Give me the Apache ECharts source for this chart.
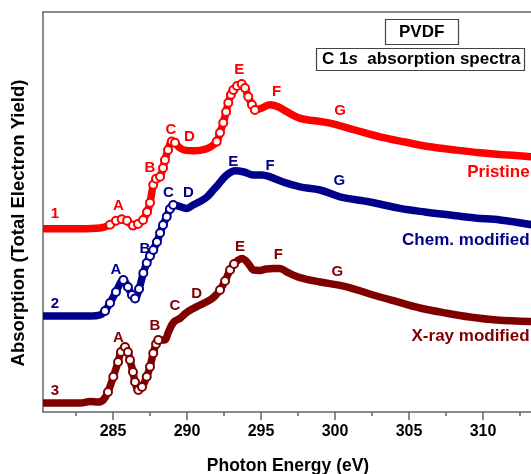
<!DOCTYPE html>
<html>
<head>
<meta charset="utf-8">
<script src="https://cdn.jsdelivr.net/npm/echarts@6/dist/echarts.min.js"></script>
<style>html,body{margin:0;padding:0;background:#fff}#c{width:531px;height:474px}</style>
</head>
<body>
<div id="c"></div>
<script>
// Photon energy (eV) / absorption (arb. units)
const pristine = [[280.27,45.8],[281.42,45.8],[282.77,45.8],[284.12,46],[284.80,46.8],[285.20,47.8],[285.59,48.2],[285.95,47.8],[286.35,46.6],[286.69,47],[287.03,48],[287.30,50],[287.50,52.3],[287.72,56.8],[287.91,58.3],[288.18,58.8],[288.38,61],[288.51,63],[288.72,65.5],[288.97,67.6],[289.19,67.3],[289.53,66],[289.93,65.4],[290.41,65.3],[290.88,65.4],[291.33,65.8],[291.69,66.5],[292.01,67.6],[292.23,69.8],[292.45,72.3],[292.64,75],[292.79,77.3],[292.97,79.3],[293.13,80.5],[293.38,81.5],[293.70,82],[293.92,81],[294.14,78.8],[294.39,76.8],[294.59,75.5],[295.07,76],[295.61,76.8],[296.15,76.3],[296.74,75.1],[297.64,73.4],[298.65,72.8],[299.66,72.2],[301.35,70.5],[303.04,68.8],[304.73,67.5],[306.42,66.3],[308.11,65.5],[309.80,64.8],[311.49,64.3],[313.40,63.8]];
const chem = [[280.27,24],[282.09,24],[283.45,24],[284.12,24.25],[284.46,25.25],[284.80,27.25],[285.20,30],[285.70,33],[286.01,31.25],[286.28,29.25],[286.49,28.4],[286.76,30.75],[287.05,34.75],[287.28,37.25],[287.50,39],[287.72,40.5],[287.97,42.5],[288.18,44.75],[288.38,46.75],[288.63,48.8],[288.85,50.75],[289.07,51.75],[289.39,51.5],[289.98,50.9],[290.41,51.75],[290.88,52.6],[291.35,53.75],[291.78,55.5],[292.09,56.75],[292.45,58.4],[292.77,59.5],[293.24,60.3],[293.85,60],[294.48,59.25],[295.07,59.25],[295.61,58.8],[296.15,58],[296.74,57.2],[297.64,56.3],[298.99,55.5],[300.34,53.8],[302.36,52.5],[304.39,50.9],[306.08,50],[307.77,49.25],[309.46,48.5],[311.15,48],[313.40,46.75]];
const xray = [[280.27,2.25],[281.42,2.25],[282.77,2.25],[283.45,2.6],[283.99,2.5],[284.34,3],[284.66,5],[285.02,8.8],[285.34,12.5],[285.54,15],[285.81,16.25],[286.01,15],[286.15,13],[286.35,10],[286.49,7.5],[286.71,5.5],[286.96,6.25],[287.28,8.8],[287.50,11.3],[287.72,14.7],[287.91,17],[288.06,18],[288.31,18],[288.51,18],[288.72,19.75],[288.97,21.75],[289.19,22.75],[289.53,23.4],[289.93,24.75],[290.43,25.9],[290.88,26.75],[291.55,28],[291.89,29],[292.23,30.5],[292.57,32.75],[292.91,35.5],[293.18,37],[293.38,37.75],[293.70,38.4],[293.99,37.75],[294.26,36.5],[294.48,35.5],[294.93,35.4],[295.34,35.75],[295.83,35.9],[296.28,35.9],[296.74,35],[297.64,33.6],[298.99,32.5],[300.79,31.3],[302.36,29.5],[304.17,27.6],[305.74,26],[307.55,24.7],[309.11,23.75],[310.93,23],[313.40,22.6]];

// energy ranges where the individual open circles are visible
const ringsPristine = [[284.6,289.3],[292.0,294.6]];
const ringsChem = [[284.3,289.1]];
const ringsXray = [[284.5,288.2],[292.2,293.3]];

const xTickLabels = [285,290,295,300,305,310];
const xMinorTicks = [282.5,287.5,292.5,297.5,302.5,307.5,312.5];

// peak letters and curve tags: [energy, absorption, text]
const peaksPristine = [[285.36,51.6,'A'],[287.50,61,'B'],[288.92,70.5,'C'],[290.16,68.7,'D'],[293.53,85.5,'E'],[296.06,80.1,'F'],[300.34,75.3,'G'],[281.08,49.5,'1']];
const peaksChem = [[285.20,35.5,'A'],[287.16,40.7,'B'],[288.74,54.7,'C'],[290.09,54.8,'D'],[293.13,62.6,'E'],[295.61,61.5,'F'],[300.29,57.8,'G'],[281.08,27,'2']];
const peaksXray = [[285.36,18.6,'A'],[287.84,21.5,'B'],[289.19,26.5,'C'],[290.66,29.5,'D'],[293.58,41.3,'E'],[296.17,39.25,'F'],[300.16,35.1,'G'],[281.08,5.2,'3']];
const names = [[313.15,60,'Pristine'],[313.15,43,'Chem. modified'],[313.15,18.8,'X-ray modified']];

const RED = '#ff0000', BLUE = '#00008b', DRED = '#800000';
const X_MIN = 280.27, X_MAX = 313.38;
const FONT = 'Liberation Sans, Arial, sans-serif';

function withRings(arr, ranges) {
  return arr.map(p => {
    const on = ranges.some(r => p[0] >= r[0] && p[0] <= r[1]);
    return on ? {value: p} : {value: p, symbol: 'none'};
  });
}
function curve(name, arr, ranges, color) {
  return {
    name, type: 'line', xAxisIndex: 0, yAxisIndex: 0,
    data: withRings(arr, ranges), smooth: 0.35,
    symbol: 'emptyCircle', symbolSize: 8, showSymbol: true,
    lineStyle: {color, width: 7.5},
    itemStyle: {color, borderColor: color, borderWidth: 1.8, opacity: 1},
    silent: true, animation: false, z: 3
  };
}
function tags(arr, color) {
  return {
    type: 'scatter', xAxisIndex: 0, yAxisIndex: 0, symbolSize: 0, silent: true, animation: false, z: 5,
    itemStyle: {opacity: 1},
    data: arr.map(p => ({value: [p[0], p[1]], name: p[2]})),
    label: {show: true, position: 'inside', distance: 0, formatter: '{b}', color, opacity: 1, fontFamily: FONT, fontWeight: 'bold', fontSize: 15}
  };
}

const chart = echarts.init(document.getElementById('c'), null, {renderer: 'canvas'});
chart.setOption({
  backgroundColor: '#fff',
  animation: false,
  grid: {left: 43, right: -2, top: 12, bottom: 62, show: false, outerBoundsMode: 'none', containLabel: false},
  xAxis: [{
    type: 'value', min: X_MIN, max: X_MAX,
    name: 'Photon Energy (eV)', nameLocation: 'middle', nameGap: 45,
    nameTextStyle: {fontFamily: FONT, fontWeight: 'bold', fontSize: 17.5, color: '#000'},
    axisLine: {show: true, lineStyle: {color: '#666', width: 1.5}},
    axisTick: {show: true, length: 8, inside: false, customValues: xTickLabels, lineStyle: {color: '#666', width: 1.5}},
    axisLabel: {show: true, customValues: xTickLabels, margin: 12, fontFamily: FONT, fontWeight: 'bold', fontSize: 16, color: '#000'},
    splitLine: {show: false}
  }, {
    type: 'value', min: X_MIN, max: X_MAX, position: 'bottom',
    axisLine: {show: false},
    axisTick: {show: true, length: 4, customValues: xMinorTicks, lineStyle: {color: '#666', width: 1.5}},
    axisLabel: {show: false},
    splitLine: {show: false}
  }, {
    type: 'value', min: X_MIN, max: X_MAX, position: 'top',
    axisLine: {show: true, lineStyle: {color: '#666', width: 1.5}},
    axisTick: {show: false}, axisLabel: {show: false}, splitLine: {show: false}
  }],
  yAxis: [{
    type: 'value', min: 0, max: 100,
    axisLine: {show: true, lineStyle: {color: '#666', width: 1.5}},
    axisTick: {show: false}, axisLabel: {show: false}, splitLine: {show: false}
  }],
  graphic: [{
    type: 'text', x: 19, y: 223, rotation: Math.PI / 2,
    style: {text: 'Absorption (Total Electron Yield)', align: 'center', verticalAlign: 'middle',
      font: 'bold 18.5px Liberation Sans, Arial, sans-serif', fill: '#000'}
  }],
  title: [{
    text: 'PVDF', left: 385, top: 19,
    padding: [4, 14, 4, 14], borderColor: '#444', borderWidth: 1.2, backgroundColor: '#fff',
    textStyle: {fontFamily: FONT, fontWeight: 'bold', fontSize: 17, lineHeight: 18, color: '#000'}
  }, {
    text: '{n|C 1}{i|s}{n|  absorption spectra}', left: 316, top: 47,
    padding: [3, 4, 3, 6], borderColor: '#444', borderWidth: 1.2, backgroundColor: '#fff',
    textStyle: {rich: {
      n: {fontFamily: FONT, fontWeight: 'bold', fontSize: 17, lineHeight: 19, color: '#000'},
      i: {fontFamily: FONT, fontWeight: 'bold', fontStyle: 'italic', fontSize: 17, lineHeight: 19, color: '#000'}
    }}
  }],
  series: [
    curve('Pristine', pristine, ringsPristine, RED),
    curve('Chem. modified', chem, ringsChem, BLUE),
    curve('X-ray modified', xray, ringsXray, DRED),
    tags(peaksPristine, RED), tags(peaksChem, BLUE), tags(peaksXray, DRED),
    {
      type: 'scatter', symbolSize: 0, silent: true, animation: false, z: 5,
      itemStyle: {opacity: 1},
      data: names.map((p, i) => ({value: [p[0], p[1]], name: p[2], label: {color: [RED, BLUE, DRED][i]}})),
      label: {show: true, position: 'left', distance: 0, opacity: 1, formatter: '{b}', fontFamily: FONT, fontWeight: 'bold', fontSize: 17}
    }
  ]
});
</script>
</body>
</html>
